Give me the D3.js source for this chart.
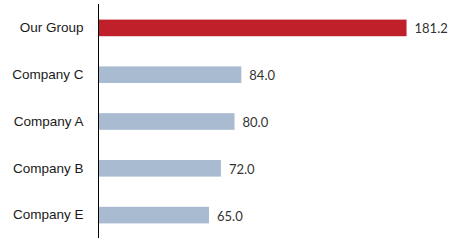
<!DOCTYPE html>
<html><head><meta charset="utf-8">
<script src="https://cdn.jsdelivr.net/npm/d3@7"></script>
<style>body{margin:0;background:#fff}svg{display:block}</style>
</head><body>
<script>
const categories = ["Our Group", "Company C", "Company A", "Company B", "Company E"];
const values = [181.2, 84.0, 80.0, 72.0, 65.0];
const highlight = ["Our Group"];

const W = 466, H = 249;
const svg = d3.select("body").append("svg").attr("width", W).attr("height", H);

const x = d3.scaleLinear().domain([0, 200]).range([98.5, 438.5]);
const y = d3.scaleBand().domain(categories).range([4.5, 238.5]).paddingInner(0.645).paddingOuter(0.3225);

const data = categories.map((c, i) => ({c, v: values[i]}));

svg.selectAll("rect.bar").data(data).enter().append("rect")
  .attr("class", "bar")
  .attr("x", x(0))
  .attr("y", d => y(d.c))
  .attr("width", d => x(d.v) - x(0))
  .attr("height", y.bandwidth())
  .attr("fill", d => highlight.includes(d.c) ? "#C0202A" : "#A8BBD0");

svg.selectAll("text.val").data(data).enter().append("text")
  .attr("class", "val")
  .attr("x", d => x(d.v) + 8)
  .attr("y", d => y(d.c) + y.bandwidth() / 2 + 1)
  .attr("dy", "0.35em")
  .attr("font-family", "Lato, 'Open Sans', sans-serif")
  .attr("font-size", "13px")
  .attr("fill", "#333")
  .text(d => d3.format(".1f")(d.v));

const yAxis = d3.axisLeft(y).tickSize(0).tickPadding(15);
const g = svg.append("g").attr("transform", `translate(${x(0)},0)`).call(yAxis);
g.select(".domain").attr("stroke", "#000").attr("d", `M0,${4}V${238}`);
g.selectAll("text").attr("font-family", "'Liberation Sans', Arial, sans-serif").attr("font-size", "13.5px").attr("fill", "#1a1a1a");
</script>
</body></html>
